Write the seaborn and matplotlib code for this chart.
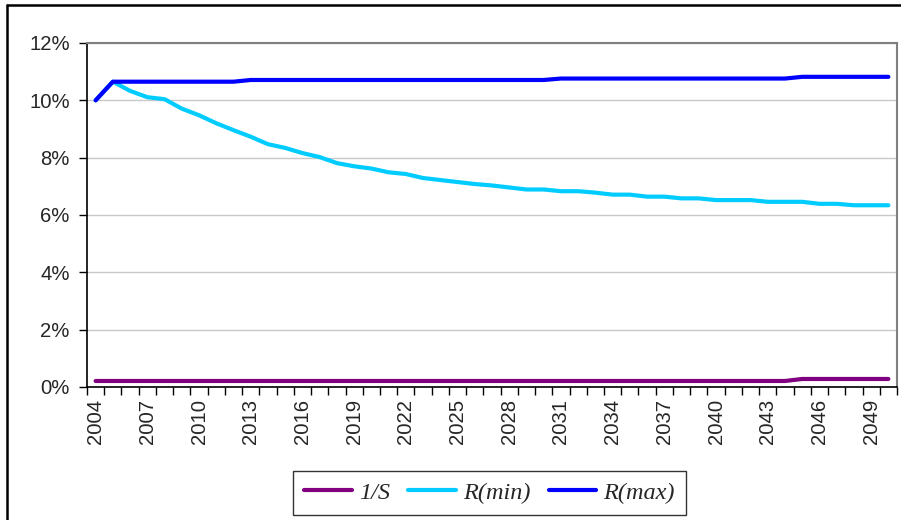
import matplotlib
matplotlib.use("Agg")
import matplotlib.pyplot as plt
from matplotlib.lines import Line2D
from matplotlib.ticker import PercentFormatter, FixedLocator
import seaborn as sns
import pandas as pd

years = list(range(2004, 2051))

inv_s = [0.21] * 41 + [0.28] * 6

r_min = [10.00, 10.65, 10.33, 10.11, 10.04, 9.71, 9.48, 9.20, 8.96, 8.73,
         8.47, 8.34, 8.16, 8.02, 7.81, 7.70, 7.62, 7.49, 7.43, 7.29,
         7.22, 7.15, 7.08, 7.03, 6.96, 6.89, 6.89, 6.83, 6.83, 6.78,
         6.71, 6.71, 6.64, 6.64, 6.58, 6.58, 6.52, 6.52, 6.52, 6.46,
         6.46, 6.46, 6.39, 6.39, 6.34, 6.34, 6.34]

r_max = [10.00] + [10.65] * 8 + [10.71] * 18 + [10.76] * 14 + [10.82] * 6

series_names = ["1/S", "R(min)", "R(max)"]
series_colors = ["#800080", "#00CCFF", "#0000FF"]

df = pd.concat([
    pd.DataFrame({"year": years, "value": vals, "series": name})
    for name, vals in zip(series_names, [inv_s, r_min, r_max])
], ignore_index=True)

sns.set_style("white")
plt.rcParams["font.family"] = ["Liberation Sans", "DejaVu Sans"]

fig = plt.figure(figsize=(9.01, 5.20), dpi=100)
ax = fig.add_axes([87 / 901, 1 - 387 / 520, 810 / 901, 344 / 520])

sns.lineplot(data=df, x="year", y="value", hue="series",
             hue_order=series_names, palette=series_colors,
             linewidth=3.0, ax=ax, legend=False, sort=False,
             solid_capstyle="round")

ax.set_xlim(2003.5, 2050.5)
ax.set_ylim(0, 12)
ax.set_xlabel("")
ax.set_ylabel("")

# y axis: percentages every 2 %
ax.set_yticks(range(0, 13, 2))
ax.yaxis.set_major_formatter(PercentFormatter(decimals=0))
ax.yaxis.grid(True, color="#C8C8C8", linewidth=1.0)
ax.set_axisbelow(True)
ax.tick_params(axis="y", which="major", direction="out", length=6,
               width=1.0, color="black", pad=6.5, labelsize=14.6, left=True)

# x axis: year labels every third category, ticks between categories
ax.set_xticks(years[::3])
ax.set_xticklabels([str(y) for y in years[::3]], rotation=90)
ax.xaxis.set_minor_locator(FixedLocator([y - 0.5 for y in years] + [years[-1] + 0.5]))
ax.tick_params(axis="x", which="major", length=0, pad=8.5, labelsize=14.6)
ax.tick_params(axis="x", which="minor", direction="out", length=6,
               width=1.0, color="black", bottom=True)

for side in ("left", "bottom"):
    ax.spines[side].set_color("black")
    ax.spines[side].set_linewidth(1.2)
for side in ("top", "right"):
    ax.spines[side].set_visible(True)
    ax.spines[side].set_color("#808080")
    ax.spines[side].set_linewidth(1.5)

handles = [Line2D([0], [0], color=c, linewidth=3.0) for c in series_colors]
leg = fig.legend(handles, series_names, loc="center",
                 bbox_to_anchor=(489.5 / 901, 1 - 493 / 520),
                 ncol=3, frameon=True, fancybox=False,
                 handlelength=1.95, handletextpad=0.3, columnspacing=0.75,
                 borderpad=0.45, borderaxespad=0,
                 prop={"family": "Liberation Serif", "style": "italic", "size": 17.5})
leg.get_frame().set_edgecolor("black")
leg.get_frame().set_linewidth(1.0)

# outer chart frame (left and top edges)
fig.add_artist(Line2D([7 / 901, 7 / 901], [0, 1 - 5 / 520],
                      transform=fig.transFigure, color="black", linewidth=1.8))
fig.add_artist(Line2D([7 / 901, 1], [1 - 5 / 520, 1 - 5 / 520],
                      transform=fig.transFigure, color="black", linewidth=1.8))

fig.savefig("out.png", dpi=100)
